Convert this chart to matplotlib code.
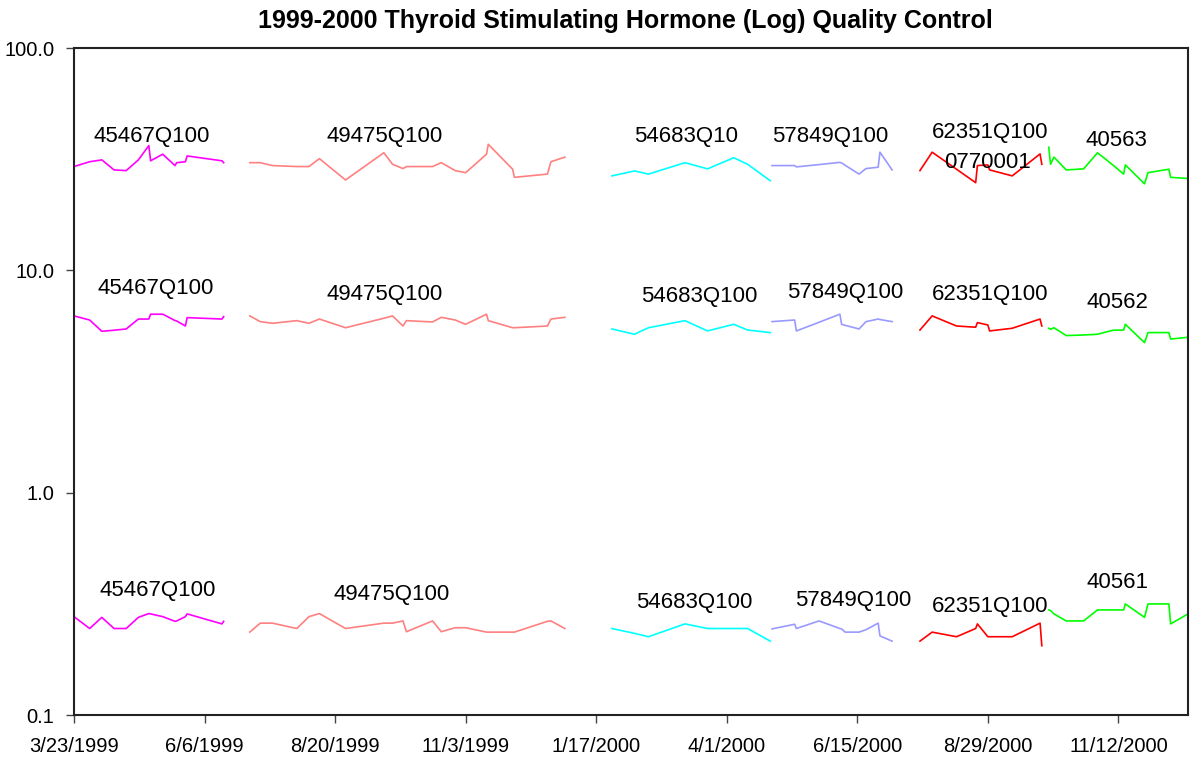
import pandas as pd
import matplotlib
matplotlib.use('Agg')
import matplotlib.pyplot as plt
from matplotlib.ticker import FixedLocator, NullLocator

plt.rcParams['font.family'] = ['Liberation Sans', 'DejaVu Sans']

# lot 45467Q100
lot1_dates = ['1999-03-23', '1999-04-01', '1999-04-08', '1999-04-15', '1999-04-22', '1999-04-29',
              '1999-05-05', '1999-05-06', '1999-05-13', '1999-05-20', '1999-05-21', '1999-05-26',
              '1999-05-27', '1999-06-16', '1999-06-17']
lot1_high = [29.3, 30.8, 31.4, 28.3, 28.1, 31.4, 36.4, 31.1, 33.3, 29.6, 30.5, 30.8, 32.7, 31.1, 30.5]
lot1_mid = [6.24, 5.98, 5.32, 5.38, 5.45, 6.04, 6.04, 6.35, 6.35, 5.95, 5.92, 5.62, 6.13, 6.04, 6.19]
lot1_low = [0.277, 0.245, 0.275, 0.245, 0.245, 0.275, 0.286, 0.285, 0.277, 0.264, 0.265, 0.277,
            0.285, 0.257, 0.264]

# lot 49475Q100
lot2_dates = ['1999-07-02', '1999-07-08', '1999-07-15', '1999-07-29', '1999-08-05', '1999-08-11',
              '1999-08-26', '1999-09-17', '1999-09-22', '1999-09-28', '1999-09-30', '1999-10-15',
              '1999-10-20', '1999-10-28', '1999-11-03', '1999-11-15', '1999-11-16', '1999-11-30',
              '1999-12-01', '1999-12-20', '1999-12-22', '1999-12-30']
lot2_high = [30.5, 30.5, 29.6, 29.3, 29.3, 31.8, 25.5, 33.8, 30.0, 28.7, 29.3, 29.3, 30.5, 28.1,
             27.5, 33.3, 36.9, 28.5, 26.2, 27.1, 30.8, 32.3]
lot2_mid = [6.24, 5.88, 5.78, 5.94, 5.78, 6.04, 5.52, 6.09, 6.24, 5.62, 5.94, 5.86, 6.15, 5.98,
            5.72, 6.35, 5.94, 5.52, 5.52, 5.62, 6.04, 6.15]
lot2_low = [0.236, 0.259, 0.259, 0.245, 0.277, 0.286, 0.245, 0.259, 0.259, 0.265, 0.237, 0.265,
            0.237, 0.247, 0.247, 0.236, 0.236, 0.236, 0.236, 0.264, 0.265, 0.245]

# lot 54683Q100
lot3_dates = ['2000-01-26', '2000-02-08', '2000-02-16', '2000-03-08', '2000-03-21', '2000-04-05',
              '2000-04-13', '2000-04-26']
lot3_high = [26.6, 28.0, 27.1, 30.5, 28.6, 32.1, 30.0, 25.3]
lot3_mid = [5.45, 5.16, 5.52, 5.94, 5.34, 5.72, 5.39, 5.25]
lot3_low = [0.245, 0.233, 0.225, 0.257, 0.245, 0.245, 0.245, 0.215]

# lot 57849Q100
lot4_dates = ['2000-04-27', '2000-05-10', '2000-05-11', '2000-05-24', '2000-06-05', '2000-06-06',
              '2000-06-08', '2000-06-16', '2000-06-20', '2000-06-27', '2000-06-28', '2000-07-05']
lot4_high = [29.6, 29.6, 29.2, 29.9, 30.6, 30.4, 29.7, 27.1, 28.7, 29.1, 34.0, 28.3]
lot4_mid = [5.88, 5.98, 5.34, 5.84, 6.35, 5.72, 5.66, 5.45, 5.88, 6.04, 6.01, 5.88]
lot4_low = [0.244, 0.256, 0.245, 0.265, 0.245, 0.244, 0.236, 0.236, 0.242, 0.259, 0.227, 0.215]

# lot 62351Q100
lot5_dates = ['2000-07-21', '2000-07-28', '2000-08-11', '2000-08-22', '2000-08-23', '2000-08-29',
              '2000-08-30', '2000-09-12', '2000-09-28', '2000-09-29']
lot5_high = [28.1, 34.0, 28.5, 24.8, 29.6, 29.8, 28.3, 26.6, 33.4, 30.0]
lot5_mid = [5.39, 6.24, 5.62, 5.55, 5.82, 5.68, 5.34, 5.49, 6.04, 5.62]
lot5_low = [0.215, 0.236, 0.225, 0.245, 0.257, 0.225, 0.225, 0.225, 0.259, 0.205]

# lot 4056x
lot6_dates = ['2000-10-03', '2000-10-04', '2000-10-06', '2000-10-13', '2000-10-23', '2000-10-31',
              '2000-11-09', '2000-11-15', '2000-11-16', '2000-11-27', '2000-11-29', '2000-12-11',
              '2000-12-12', '2000-12-22']
lot6_high = [35.8, 30.0, 32.3, 28.3, 28.6, 33.8, 29.7, 27.1, 29.8, 24.5, 27.5, 28.5, 26.2, 25.9]
lot6_mid = [5.49, 5.43, 5.52, 5.09, 5.12, 5.16, 5.38, 5.39, 5.72, 4.73, 5.25, 5.25, 4.91, 5.00]
lot6_low = [0.297, 0.295, 0.285, 0.265, 0.265, 0.297, 0.297, 0.297, 0.316, 0.275, 0.316, 0.316,
            0.257, 0.285]

lot_colors = ['#FF00FF', '#FF8080', '#00FFFF', '#9999FF', '#FF0000', '#00FF00']

# lot labels (text, x, y in axes fraction)
labels_high = [('45467Q100', 0.070, 0.868), ('49475Q100', 0.279, 0.867), ('54683Q10', 0.549, 0.867),
               ('57849Q100', 0.679, 0.867), ('62351Q100', 0.822, 0.873), ('0770001', 0.820, 0.828),
               ('40563', 0.936, 0.861)]
labels_mid = [('45467Q100', 0.073, 0.639), ('49475Q100', 0.279, 0.631), ('54683Q100', 0.561, 0.628),
              ('57849Q100', 0.692, 0.634), ('62351Q100', 0.822, 0.631), ('40562', 0.937, 0.618)]
labels_low = [('45467Q100', 0.075, 0.187), ('49475Q100', 0.285, 0.181), ('54683Q100', 0.557, 0.168),
              ('57849Q100', 0.699, 0.172), ('62351Q100', 0.822, 0.162), ('40561', 0.937, 0.199)]

lots = [
    (lot1_dates, lot1_high, lot1_mid, lot1_low),
    (lot2_dates, lot2_high, lot2_mid, lot2_low),
    (lot3_dates, lot3_high, lot3_mid, lot3_low),
    (lot4_dates, lot4_high, lot4_mid, lot4_low),
    (lot5_dates, lot5_high, lot5_mid, lot5_low),
    (lot6_dates, lot6_high, lot6_mid, lot6_low),
]

fig = plt.figure(figsize=(12.01, 7.61), dpi=100)
ax = fig.add_axes([0.0616, 0.0604, 0.9276, 0.8765])

for (dates, high, mid, low), color in zip(lots, lot_colors):
    d = pd.to_datetime(dates)
    for vals in (high, mid, low):
        ax.plot(d, vals, color=color, linewidth=1.2)

for text, fx, fy in labels_high + labels_mid + labels_low:
    ax.text(fx, fy, text, transform=ax.transAxes, ha='center', va='center', fontsize=16)

# axes
ax.set_yscale('log')
ax.set_ylim(0.1, 100)
ax.yaxis.set_major_locator(FixedLocator([0.1, 1, 10, 100]))
ax.yaxis.set_minor_locator(NullLocator())
ax.set_yticklabels(['0.1', '1.0', '10.0', '100.0'])

start = pd.Timestamp('1999-03-23')
ax.set_xlim(start, pd.Timestamp('2000-12-22'))
xticks = [start + pd.Timedelta(days=75 * i) for i in range(9)]
ax.set_xticks(xticks)
ax.set_xticklabels([f'{t.month}/{t.day}/{t.year}' for t in xticks])
ax.xaxis.set_minor_locator(NullLocator())

ax.tick_params(axis='both', direction='out', length=6, width=1, labelsize=14.5, color='#444444')
ax.tick_params(axis='x', pad=10)
ax.tick_params(axis='y', pad=8)
for s in ax.spines.values():
    s.set_linewidth(1.5)
    s.set_color('#222222')

fig.text(0.521, 0.972, '1999-2000 Thyroid Stimulating Hormone (Log) Quality Control',
         ha='center', va='center', fontsize=18, fontweight='bold')

fig.savefig('out.png', dpi=100)
